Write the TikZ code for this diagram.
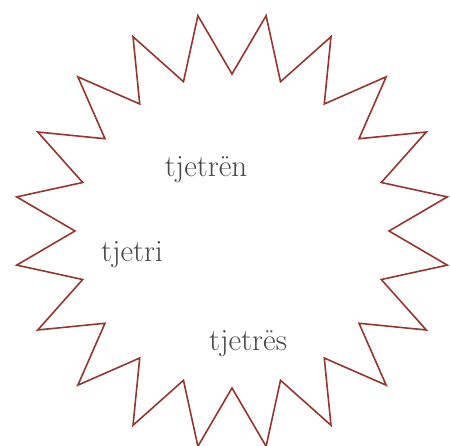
\documentclass[tikz,border=0pt]{standalone}
\usepackage{fontspec}
\definecolor{starred}{RGB}{150,55,45}
\definecolor{txtgrey}{RGB}{70,70,78}
\tikzset{
  starline/.style={draw=starred, line width=1.6pt, line join=miter},
  word/.style={anchor=base, text=txtgrey, inner sep=0pt, font=\fontsize{31}{36}\selectfont}
}
\begin{document}
\begin{tikzpicture}[x=1pt,y=1pt]
\useasboundingbox (0,0) rectangle (450,445);
\draw[starline, shift={(232,214)}] (90:157)
  \foreach \i [evaluate=\i as \r using {mod(\i,2)==1 ? 218 : 157}] in {1,...,39} { -- ({90+9*\i}:\r) } -- cycle;
\node[word] (n1) at (206,268) {tjetrën};
\node[word] (n2) at (132,183) {tjetri};
\node[word] (n3) at (248,95) {tjetrës};
\end{tikzpicture}
\end{document}
